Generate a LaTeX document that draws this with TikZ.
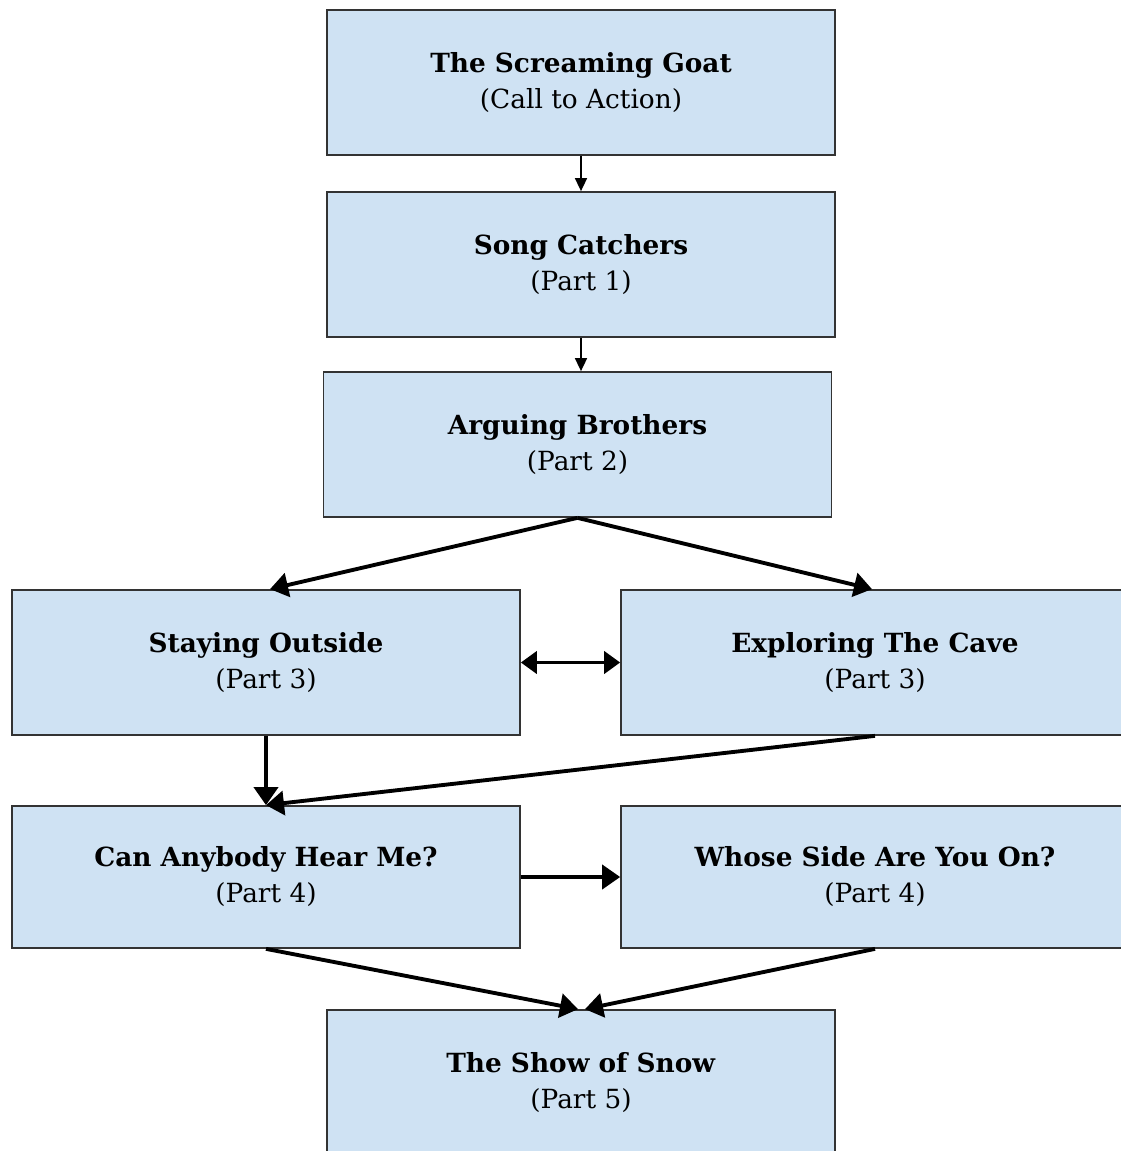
\documentclass[tikz,border=0pt]{standalone}
\usepackage{fontspec}
\setmainfont{DejaVu Serif}
\usepackage{tikz}
\usetikzlibrary{arrows.meta}

\definecolor{partblue}{HTML}{CFE2F3}
\definecolor{partline}{HTML}{333333}

\begin{document}
\begin{tikzpicture}[x=0.02cm,y=-0.02cm,
                    -{Triangle[length=0.36cm,width=0.48cm]},line width=2.2pt,
                    part node/.style={rectangle,draw=partline,line width=1pt,fill=partblue,
                      minimum width=10.16cm,minimum height=2.9cm,inner sep=0pt,align=center,
                      font=\fontsize{15}{20.5}\selectfont},
                    thin arrow/.style={-{Triangle[length=0.26cm,width=0.24cm]},line width=0.9pt},
                    both arrow/.style={{Triangle[length=0.32cm,width=0.44cm]}-{Triangle[length=0.32cm,width=0.44cm]}}]

  \useasboundingbox (0,0) rectangle (1120,1151);

  \node[part node] (1) at (581,82.5) {\textbf{The Screaming Goat}\\(Call to Action)};
  \node[part node] (2) at (581,264.5) {\textbf{Song Catchers}\\(Part 1)};
  \node[part node] (3) at (577.5,444.5) {\textbf{Arguing Brothers}\\(Part 2)};
  \node[part node] (4) at (266,662.5) {\textbf{Staying Outside}\\(Part 3)};
  \node[part node] (5) at (875,662.5) {\textbf{Exploring The Cave}\\(Part 3)};
  \node[part node,minimum height=2.84cm] (6) at (266,877) {\textbf{Can Anybody Hear Me?}\\(Part 4)};
  \node[part node,minimum height=2.84cm] (7) at (875,877) {\textbf{Whose Side Are You On?}\\(Part 4)};
  \node[part node] (8) at (581,1082.5) {\textbf{The Show of Snow}\\(Part 5)};

  \path
   (1) edge [thin arrow] (2)
   (2) edge [thin arrow] (2.south |- 3.north)
   (3.south) edge ([xshift=0.08cm]4.north)
   (3.south) edge ([xshift=-0.06cm]5.north)
   (4) edge [both arrow] (5)
   (4) edge (6)
   (5.south) edge (6.north)
   (6) edge (7)
   (6.south) edge ([xshift=-0.06cm]8.north)
   (7.south) edge ([xshift=0.08cm]8.north);
\end{tikzpicture}
\end{document}
